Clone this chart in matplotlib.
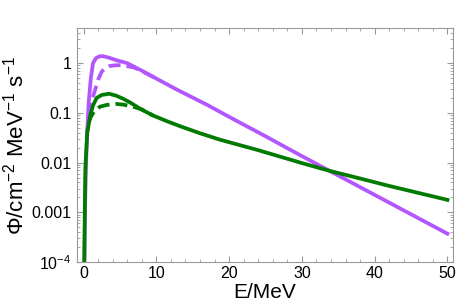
import numpy as np
import matplotlib
matplotlib.use("Agg")
import matplotlib.pyplot as plt
from matplotlib.ticker import FixedLocator, MultipleLocator, NullFormatter

plt.rcParams['font.family'] = ['Liberation Sans', 'DejaVu Sans']
plt.rcParams['mathtext.fontset'] = 'custom'
plt.rcParams['mathtext.rm'] = 'Liberation Sans'
plt.rcParams['mathtext.it'] = 'Liberation Sans'

# energies (MeV) and log10 flux values
e_purple = [0.12, 0.2, 0.3, 0.5, 0.7, 1.0, 1.3, 1.7, 2.2, 2.7, 3.5, 4.5, 6.0,
            8.0, 10.0, 12.8, 17.0, 20.0, 25.0, 30.0, 35.0, 40.0, 45.0, 50.0]
lg_purple = [-4.0, -3.0, -2.2, -1.4, -0.8, -0.3, 0.0, 0.10, 0.14, 0.14, 0.11, 0.06, 0.0,
             -0.15, -0.31, -0.53, -0.84, -1.08, -1.47, -1.87, -2.26, -2.65, -3.04, -3.43]

e_purple_d = [0.5, 0.8, 1.2, 1.6, 2.0, 2.5, 3.0, 3.5, 4.5, 5.5, 7.0, 8.0, 10.0]
lg_purple_d = [-1.4, -1.0, -0.72, -0.53, -0.33, -0.17, -0.10, -0.06, -0.04, -0.045, -0.09, -0.16, -0.31]

e_green = [0.1, 0.16, 0.25, 0.5, 0.93, 1.3, 1.8, 2.5, 3.5, 4.5, 5.5, 6.5, 7.8, 9.5,
           11.5, 13.3, 16.0, 18.75, 21.5, 24.0, 27.0, 30.0, 33.9, 38.0, 42.0, 46.0, 50.0]
lg_green = [-4.0, -3.1, -2.1, -1.4, -1.05, -0.85, -0.70, -0.64, -0.615, -0.655, -0.72, -0.80, -0.92, -1.05,
            -1.17, -1.27, -1.41, -1.54, -1.65, -1.75, -1.88, -2.01, -2.17, -2.32, -2.47, -2.61, -2.75]

e_green_d = [0.7, 1.0, 1.5, 2.27, 3.2, 4.5, 5.5, 6.8, 8.0, 9.5]
lg_green_d = [-1.2, -1.08, -0.96, -0.875, -0.84, -0.82, -0.835, -0.875, -0.93, -1.05]

yticks = [1e-4, 1e-3, 1e-2, 1e-1, 1]
ytick_labels = ['$10^{-4}$', '0.001', '0.01', '0.1', '1']

purple = '#b256ff'
green = '#007a00'

fig = plt.figure(figsize=(4.57, 3.06), dpi=100)
ax = fig.add_axes([0.1685, 0.1438, 0.8225, 0.7647])

ax.plot(e_purple_d, 10 ** np.array(lg_purple_d), color=purple, lw=2.7, ls=(0, (3.2, 1.6)))
ax.plot(e_green_d, 10 ** np.array(lg_green_d), color=green, lw=2.7, ls=(0, (3.2, 1.6)))
ax.plot(e_purple, 10 ** np.array(lg_purple), color=purple, lw=2.7)
ax.plot(e_green, 10 ** np.array(lg_green), color=green, lw=2.7)

ax.set_yscale('log')
ax.set_xlim(-0.9, 50.75)
ax.set_ylim(1e-4, 5.1)

ax.set_yticks(yticks)
ax.set_yticklabels(ytick_labels)
ax.yaxis.set_minor_locator(FixedLocator(
    [m * 10.0 ** k for k in range(-4, 1) for m in range(2, 10)]))
ax.yaxis.set_minor_formatter(NullFormatter())
ax.xaxis.set_major_locator(MultipleLocator(10))
ax.xaxis.set_minor_locator(MultipleLocator(2))

ax.tick_params(which='both', direction='in', top=True, right=True,
               color='#999999', labelsize=11.5)
ax.tick_params(which='major', length=4, width=0.8)
ax.tick_params(which='minor', length=2.2, width=0.6)
ax.tick_params(axis='y', pad=4)
ax.tick_params(axis='x', pad=3)
for s in ax.spines.values():
    s.set_color('#999999')
    s.set_linewidth(0.8)

ax.set_xlabel('E/MeV', fontsize=15, labelpad=1)
ax.set_ylabel(r'$\Phi$/cm$^{-2}$ MeV$^{-1}$ s$^{-1}$', fontsize=16, labelpad=2)

fig.savefig('out.png', dpi=100)
